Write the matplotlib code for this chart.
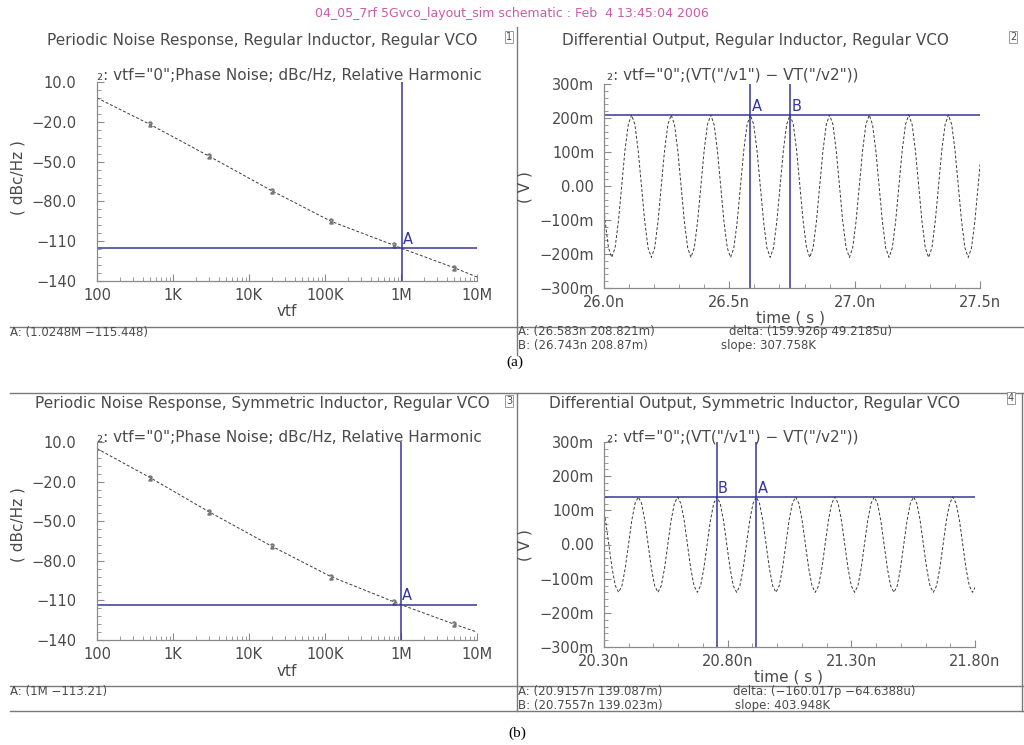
import numpy as np
import matplotlib
matplotlib.use("Agg")
import matplotlib.pyplot as plt
from matplotlib.lines import Line2D
from matplotlib.ticker import FixedLocator, LogLocator, NullFormatter

W, H = 1024, 745

# periodic noise response (dBc/Hz vs offset freq)
pn_freq_reg = [100, 500, 3e3, 2e4, 1.2e5, 8e5, 1.0248e6, 5e6, 1e7]
pn_reg = [-2, -22, -46, -72, -95, -113, -115.448, -130, -137]
pn_freq_sym = [100, 500, 3e3, 2e4, 1.2e5, 8e5, 1e6, 5e6, 1e7]
pn_sym = [5, -17, -43, -69, -92, -111, -113.21, -128, -134]
pn_ticks = [100, 1e3, 1e4, 1e5, 1e6, 1e7]
pn_ticklabels = ["100", "1K", "10K", "100K", "1M", "10M"]
pn_yticks = [10, -20, -50, -80, -110, -140]
pn_yticklabels = ["10.0", "\u221220.0", "\u221250.0", "\u221280.0", "\u2212110", "\u2212140"]

# differential output, sampled 12 points per period (mV)
reg_first_peak = 26.11   # ns
reg_period = 0.158
reg_mv = [
    0, -105, -182, -210, -182, -105, 0, 105, 181, 209, 181, 105,
    0, -105, -182, -210, -182, -105, 0, 105, 181, 209, 181, 105,
    0, -105, -182, -210, -182, -105, 0, 105, 181, 209, 181, 105,
    0, -105, -182, -210, -182, -105, 0, 105, 181, 209, 181, 105,
    0, -105, -182, -210, -182, -105, 0, 105, 181, 209, 181, 105,
    0, -105, -182, -210, -182, -105, 0, 105, 181, 209, 181, 105,
    0, -105, -182, -210, -182, -105, 0, 105, 181, 209, 181, 105,
    0, -105, -182, -210, -182, -105, 0, 105, 181, 209, 181, 105,
    0, -105, -182, -210, -182, -105, 0, 105, 181, 209, 181, 105,
    0, -105, -182, -210, -182, -105, 0, 105,
]
sym_first_peak = 20.4387
sym_period = 0.159
sym_mv = [
    120, 70, 0, -70, -121, -140, -121, -70, 0, 70, 120, 139,
    120, 70, 0, -70, -121, -140, -121, -70, 0, 70, 120, 139,
    120, 70, 0, -70, -121, -140, -121, -70, 0, 70, 120, 139,
    120, 70, 0, -70, -121, -140, -121, -70, 0, 70, 120, 139,
    120, 70, 0, -70, -121, -140, -121, -70, 0, 70, 120, 139,
    120, 70, 0, -70, -121, -140, -121, -70, 0, 70, 120, 139,
    120, 70, 0, -70, -121, -140, -121, -70, 0, 70, 120, 139,
    120, 70, 0, -70, -121, -140, -121, -70, 0, 70, 120, 139,
    120, 70, 0, -70, -121, -140, -121, -70, 0, 70, 120, 139,
    120, 70, 0, -70, -121, -140, -121,
]
v_yticks = [300, 200, 100, 0, -100, -200, -300]
v_yticklabels = ["300m", "200m", "100m", "0.00", "\u2212100m", "\u2212200m", "\u2212300m"]

# cursors
reg_A = (1.0248e6, -115.448)
sym_A = (1e6, -113.21)
reg_vA, reg_vB = (26.583, 208.821), (26.743, 208.87)
sym_vA, sym_vB = (20.9157, 139.087), (20.7557, 139.023)

TXT = "#4a4a4a"
AXC = "#8a8a8a"
BLUE = "#35359a"
FRAME = "#7a7a7a"
CURVE = "#3a3a3a"

fig = plt.figure(figsize=(W / 100, H / 100), dpi=100)
fig.patch.set_facecolor("white")


def ftext(x, y, s, **kw):
    kw.setdefault("color", TXT)
    kw.setdefault("fontsize", 11)
    fig.text(x / W, 1 - y / H, s, **kw)


def fline(x0, y0, x1, y1, color=FRAME, lw=1.0):
    fig.add_artist(Line2D([x0 / W, x1 / W], [1 - y0 / H, 1 - y1 / H],
                          color=color, lw=lw))


def add_ax(l, t, r, b):
    ax = fig.add_axes([l / W, 1 - b / H, (r - l) / W, (b - t) / H])
    ax.set_facecolor("none")
    for s in ["top", "right"]:
        ax.spines[s].set_visible(False)
    for s in ["left", "bottom"]:
        ax.spines[s].set_color(AXC)
        ax.spines[s].set_linewidth(0.9)
    ax.tick_params(which="both", direction="in", colors=AXC,
                   labelcolor=TXT, labelsize=10.5)
    ax.tick_params(which="major", length=5)
    ax.tick_params(which="minor", length=3)
    return ax


def noise_panel(ax, f, db, cur):
    ax.plot(f, db, color=CURVE, lw=0.7, ls=(0, (3, 2)),
            marker="$2$", ms=3.5, markevery=[1, 2, 3, 4, 5, 7],
            mec="#777777", mfc="#777777")
    ax.set_xscale("log")
    ax.set_xlim(100, 1e7)
    ax.set_ylim(-140, 10)
    ax.set_xticks(pn_ticks, labels=pn_ticklabels)
    ax.xaxis.set_minor_locator(LogLocator(base=10, subs=np.arange(2, 10)))
    ax.xaxis.set_minor_formatter(NullFormatter())
    ax.set_yticks(pn_yticks, labels=pn_yticklabels)
    ax.yaxis.set_minor_locator(FixedLocator(np.arange(-140, 11, 6)))
    ax.tick_params(axis="y", pad=15)
    ax.tick_params(axis="x", pad=5)
    ax.axhline(cur[1], color=BLUE, lw=1.1)
    ax.axvline(cur[0], color=BLUE, lw=1.1)
    ax.annotate("A", cur, xytext=(1, 1), textcoords="offset points",
                color=BLUE, fontsize=10.5, ha="left", va="bottom")


def wave_panel(ax, first_peak, period, mv, j0, xt, xtl, curs):
    step = period / 12
    t = first_peak + step * np.arange(j0, j0 + len(mv))
    ax.plot(t, mv, color=CURVE, lw=0.7, ls=(0, (3, 2)))
    ax.set_xlim(xt[0], xt[-1])
    ax.set_ylim(-300, 300)
    ax.set_xticks(xt, labels=xtl)
    ax.xaxis.set_minor_locator(FixedLocator(np.arange(xt[0], xt[-1] + 0.01, 0.1)))
    ax.set_yticks(v_yticks, labels=v_yticklabels)
    ax.yaxis.set_minor_locator(FixedLocator(np.arange(-300, 301, 20)))
    ax.tick_params(axis="y", pad=7)
    ax.tick_params(axis="x", pad=5)
    ax.axhline(curs[0][1][1], color=BLUE, lw=1.1)
    for name, (x, y) in curs:
        ax.axvline(x, color=BLUE, lw=1.1)
        ax.annotate(name, (x, y), xytext=(1, 1), textcoords="offset points",
                    color=BLUE, fontsize=10.5, ha="left", va="bottom")


# header
ftext(512, 14, "04_05_7rf 5Gvco_layout_sim schematic : Feb  4 13:45:04 2006",
      color="#cc5aa8", fontsize=9, ha="center", va="center")

# frames
fline(517, 27, 517, 355)
fline(10, 327, 1024, 327)
fline(10, 393, 1024, 393)
fline(517, 393, 517, 711)
fline(10, 686, 1024, 686)
fline(10, 711, 1024, 711)
fline(1022, 393, 1022, 711)

box = dict(boxstyle="square,pad=0.1", fc="white", ec=AXC, lw=0.6)
for x, y, s in [(509, 37, "1"), (1013, 37, "2"), (509, 401, "3"), (1011, 398, "4")]:
    ftext(x, y, s, fontsize=7, ha="center", va="center", bbox=box)

# ---- (a) regular inductor
ax1 = add_ax(97, 82, 477, 281)
noise_panel(ax1, pn_freq_reg, pn_reg, reg_A)
ftext(262, 40, "Periodic Noise Response, Regular Inductor, Regular VCO",
      ha="center", va="center")
ftext(97, 75, '\u2082: vtf="0";Phase Noise; dBc/Hz, Relative Harmonic',
      ha="left", va="center")
ftext(18, 178, "( dBc/Hz )", rotation=90, ha="center", va="center")
ftext(287, 312, "vtf", ha="center", va="center")
ftext(10, 333, "A: (1.0248M \u2212115.448)", fontsize=8.5, ha="left", va="center")

ax2 = add_ax(604, 84, 980, 288)
wave_panel(ax2, reg_first_peak, reg_period, reg_mv, -9,
           [26.0, 26.5, 27.0, 27.5], ["26.0n", "26.5n", "27.0n", "27.5n"],
           [("A", reg_vA), ("B", reg_vB)])
ftext(755, 40, "Differential Output, Regular Inductor, Regular VCO",
      ha="center", va="center")
ftext(607, 75, '\u2082: vtf="0";(VT("/v1") \u2212 VT("/v2"))',
      ha="left", va="center")
ftext(525, 187, "( V )", rotation=90, ha="center", va="center")
ftext(790, 318, "time ( s )", ha="center", va="center")
ftext(518, 332, "A: (26.583n 208.821m)", fontsize=8.5, ha="left", va="center")
ftext(518, 346, "B: (26.743n 208.87m)", fontsize=8.5, ha="left", va="center")
ftext(729, 332, "delta: (159.926p 49.2185u)", fontsize=8.5, ha="left", va="center")
ftext(721, 346, "slope: 307.758K", fontsize=8.5, ha="left", va="center")

ftext(515, 362, "(a)", family="Liberation Serif", color="black",
      fontsize=11, ha="center", va="center")

# ---- (b) symmetric inductor
ax3 = add_ax(97, 442, 477, 640)
noise_panel(ax3, pn_freq_sym, pn_sym, sym_A)
ftext(262, 403, "Periodic Noise Response, Symmetric Inductor, Regular VCO",
      ha="center", va="center")
ftext(97, 437, '\u2082: vtf="0";Phase Noise; dBc/Hz, Relative Harmonic',
      ha="left", va="center")
ftext(18, 525, "( dBc/Hz )", rotation=90, ha="center", va="center")
ftext(287, 672, "vtf", ha="center", va="center")
ftext(10, 692, "A: (1M \u2212113.21)", fontsize=8.5, ha="left", va="center")

ax4 = add_ax(604, 442, 975, 647)
wave_panel(ax4, sym_first_peak, sym_period, sym_mv, -11,
           [20.3, 20.8, 21.3, 21.8], ["20.30n", "20.80n", "21.30n", "21.80n"],
           [("A", sym_vA), ("B", sym_vB)])
ftext(755, 403, "Differential Output, Symmetric Inductor, Regular VCO",
      ha="center", va="center")
ftext(607, 437, '\u2082: vtf="0";(VT("/v1") \u2212 VT("/v2"))',
      ha="left", va="center")
ftext(525, 545, "( V )", rotation=90, ha="center", va="center")
ftext(789, 677, "time ( s )", ha="center", va="center")
ftext(518, 692, "A: (20.9157n 139.087m)", fontsize=8.5, ha="left", va="center")
ftext(518, 705, "B: (20.7557n 139.023m)", fontsize=8.5, ha="left", va="center")
ftext(733, 692, "delta: (\u2212160.017p \u221264.6388u)", fontsize=8.5, ha="left", va="center")
ftext(735, 705, "slope: 403.948K", fontsize=8.5, ha="left", va="center")

ftext(517, 733, "(b)", family="Liberation Serif", color="black",
      fontsize=11, ha="center", va="center")

fig.savefig("out.png", dpi=100)
